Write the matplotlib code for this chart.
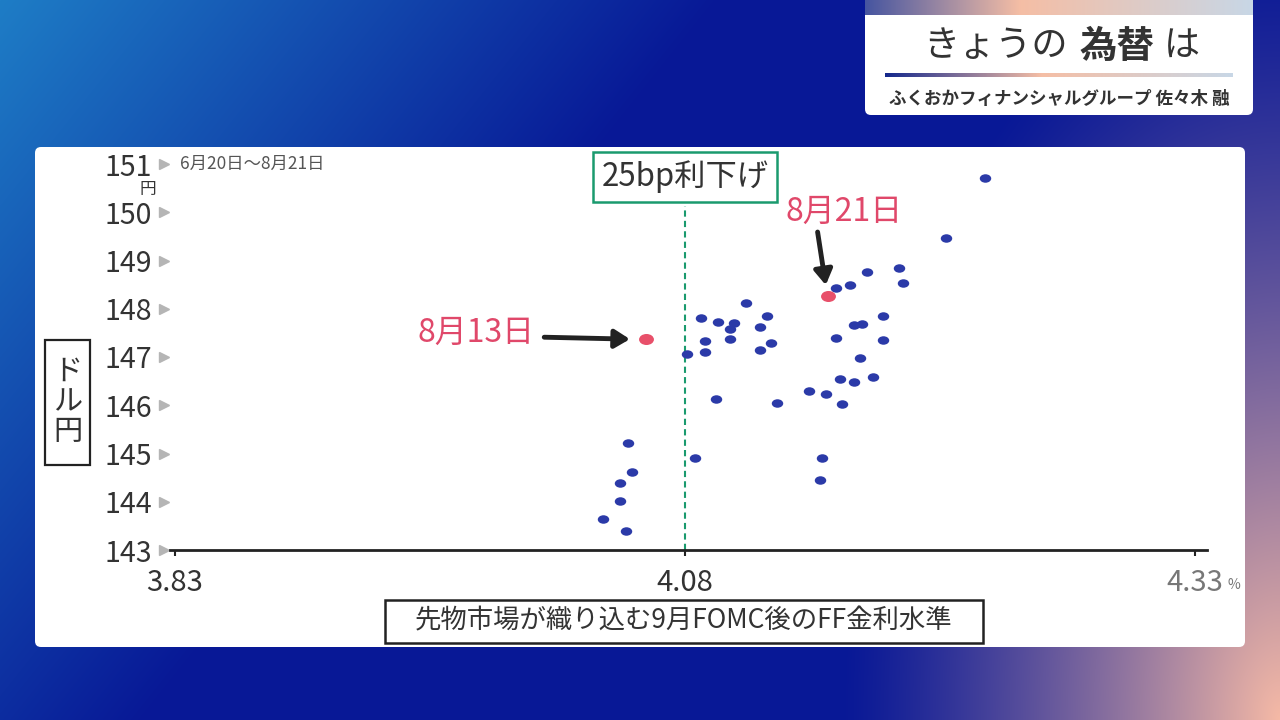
import numpy as np
import matplotlib
matplotlib.use("Agg")
import matplotlib.pyplot as plt
from matplotlib.patches import FancyBboxPatch, Rectangle
from matplotlib.path import Path

plt.rcParams['font.family'] = ['Noto Sans CJK JP', 'DejaVu Sans']

# ---------------- data ----------------
ff_rate = [4.227, 4.208, 4.185, 4.187, 4.169, 4.161, 4.154,
           4.110, 4.088, 4.096, 4.104, 4.102, 4.120, 4.117, 4.177, 4.163, 4.167,
           4.090, 4.102, 4.122, 4.117, 4.154, 4.177, 4.081, 4.090, 4.166,
           4.156, 4.163, 4.172, 4.141, 4.149, 4.157, 4.095, 4.125,
           4.052, 4.054, 4.048, 4.048, 4.040, 4.051, 4.085, 4.147, 4.146]
usdjpy = [150.71, 149.47, 148.84, 148.53, 148.76, 148.49, 148.43,
          148.12, 147.81, 147.73, 147.70, 147.58, 147.84, 147.62, 147.84, 147.66, 147.68,
          147.33, 147.37, 147.29, 147.15, 147.39, 147.35, 147.06, 147.10, 146.98,
          146.54, 146.48, 146.59, 146.30, 146.23, 146.03, 146.13, 146.05,
          145.22, 144.62, 144.39, 144.02, 143.64, 143.39, 144.91, 144.91, 144.45]
highlight_labels = ['8月13日', '8月21日']
highlight_rate = [4.061, 4.150]
highlight_jpy = [147.37, 148.26]

x_ticks = [3.83, 4.08, 4.33]
x_tick_labels = ['3.83', '4.08', '4.33']
y_ticks = [143, 144, 145, 146, 147, 148, 149, 150, 151]
y_tick_labels = [str(v) for v in y_ticks]
cut_rate = 4.08

W, H = 1280, 720
fig = plt.figure(figsize=(12.8, 7.2), dpi=100)

# ---------------- background ----------------
bg = fig.add_axes([0, 0, 1, 1])
bg.set_xlim(0, W)
bg.set_ylim(H, 0)
bg.axis('off')
yy, xx = np.mgrid[0:H, 0:W].astype(float)
navy = np.array([8, 24, 150]) / 255
blue = np.array([30, 125, 198]) / 255
pink = np.array([246, 186, 166]) / 255
w1 = np.clip(1 - (xx + 0.8 * yy) / 720, 0, 1) ** 1.0
d2 = np.sqrt(((W - xx) / 440) ** 2 + ((H - yy) / 780) ** 2)
w2 = np.clip(1 - d2, 0, 1) ** 1.25
img = navy[None, None, :] * (1 - w1[..., None]) + blue[None, None, :] * w1[..., None]
img = img * (1 - w2[..., None]) + pink[None, None, :] * w2[..., None]
bg.imshow(img, extent=(0, W, H, 0), aspect='auto', zorder=0)

# white panel
bg.add_patch(FancyBboxPatch((35, 147), 1210, 500, boxstyle="round,pad=0,rounding_size=6",
                            fc='white', ec='none', zorder=1))

# title box
bg.add_patch(FancyBboxPatch((865, -10), 388, 125, boxstyle="round,pad=0,rounding_size=6",
                            fc='white', ec='none', zorder=1))
top_grad = np.linspace(0, 1, 300)
c0 = np.array([70, 85, 160]) / 255
c1 = np.array([245, 190, 165]) / 255
c2 = np.array([200, 215, 230]) / 255
strip = np.where(top_grad[:, None] < 0.4,
                 c0 + (c1 - c0) * (top_grad[:, None] / 0.4),
                 c1 + (c2 - c1) * ((top_grad[:, None] - 0.4) / 0.6))
bg.imshow(strip[None, :, :], extent=(865, 1253, 15, 0), aspect='auto', zorder=2)
c3 = np.array([20, 40, 140]) / 255
strip2 = np.where(top_grad[:, None] < 0.45,
                  c3 + (c1 - c3) * (top_grad[:, None] / 0.45),
                  c1 + (c2 - c1) * ((top_grad[:, None] - 0.45) / 0.55))
bg.imshow(strip2[None, :, :], extent=(885, 1233, 77, 73), aspect='auto', zorder=2)
bg.text(1068, 46, 'きょうの', fontsize=26, color='#333333', ha='right', va='center', zorder=3)
bg.text(1117, 46, '為替', fontsize=27, color='#333333', fontweight='bold', ha='center', va='center', zorder=3)
bg.text(1164, 46, 'は', fontsize=26, color='#333333', ha='left', va='center', zorder=3)
bg.text(1059, 99, 'ふくおかフィナンシャルグループ 佐々木 融', fontsize=12.6, color='#333333',
        fontweight='bold', ha='center', va='center', zorder=3)

# y label box
bg.add_patch(Rectangle((45, 340), 45, 125, fc='white', ec='#222222', lw=1.6, zorder=3))
bg.text(67.5, 402, 'ド\nル\n円', fontsize=21, color='#333333', ha='center', va='center',
        linespacing=1.0, zorder=4)

# x label box
bg.add_patch(Rectangle((385, 600), 598, 43, fc='white', ec='#222222', lw=1.8, zorder=3))
bg.text(684, 621, '先物市場が織り込む9月FOMC後のFF金利水準', fontsize=19, color='#333333',
        ha='center', va='center', zorder=4)

# ---------------- main axes ----------------
px_per_unit = 2040.0
x0_px = 175.0
xmin = 3.83 - (x0_px - 170) / px_per_unit
xmax = 3.83 + (1207 - x0_px) / px_per_unit
ax = fig.add_axes([170 / W, 1 - 550 / H, (1207 - 170) / W, (550 - 154) / H])
ax.set_facecolor('none')
ax.set_xlim(xmin, xmax)
ax.set_ylim(143, 143 + (550 - 154) / 48.25)
for s in ['top', 'right', 'left']:
    ax.spines[s].set_visible(False)
ax.spines['bottom'].set_color('#222222')
ax.spines['bottom'].set_linewidth(2.0)

ax.set_yticks(y_ticks, y_tick_labels)
ax.tick_params(axis='y', length=0, pad=13, labelsize=20.5, labelcolor='#333333')
ax.set_xticks(x_ticks, x_tick_labels)
ax.tick_params(axis='x', length=4, width=1.5, color='#222222', pad=9, labelsize=21,
               labelcolor='#333333')
ax.get_xticklabels()[2].set_color('#777777')
tri_x = 3.83 + (164 - x0_px) / px_per_unit
ax.plot([tri_x] * len(y_ticks), y_ticks, linestyle='none', marker='>', markersize=7,
        color='#b5b5b5', clip_on=False, zorder=2)

ax.text(1.0 + (1234 - 1207) / (1207 - 170), -0.088, '%', transform=ax.transAxes,
        fontsize=10, color='#777777', ha='center', va='center')
ax.text(3.83 + (148 - x0_px) / px_per_unit, 150.47, '円', fontsize=12, color='#333333',
        ha='center', va='center', clip_on=False)
ax.text(3.83 + (180 - x0_px) / px_per_unit, 151.0, '6月20日〜8月21日', fontsize=12.5,
        color='#555555', ha='left', va='center')

# cut line and box
ax.plot([cut_rate, cut_rate], [143, 150.13], linestyle=(0, (3, 2)), color='#1a9a6e', lw=1.5, zorder=1)
ax.text(cut_rate, 150.73, '25bp利下げ', fontsize=22.5, color='#333333', ha='center', va='center',
        bbox=dict(boxstyle='square,pad=0.28', fc='white', ec='#1a9a6e', lw=1.8), zorder=5)

# points
circ = Path.unit_circle()
ell = Path(circ.vertices * np.array([1.35, 1.0]), circ.codes)
ax.scatter(ff_rate, usdjpy, s=68, marker=ell, color='#2b3aa8', linewidths=0, zorder=3)
ax.scatter(highlight_rate, highlight_jpy, s=115, marker=ell, color='#e8506a', linewidths=0, zorder=4)

red = '#e0486a'
arrow_kw = dict(arrowstyle='-|>,head_length=0.9,head_width=0.55', color='#222222', lw=3.5,
                shrinkA=0, shrinkB=0)
# 8/13
ax.annotate('', xy=(highlight_rate[0] - 0.008, highlight_jpy[0]),
            xytext=(highlight_rate[0] - 0.050, highlight_jpy[0] + 0.04), arrowprops=arrow_kw, zorder=5)
ax.text(highlight_rate[0] - 0.0545, highlight_jpy[0] + 0.13, highlight_labels[0], fontsize=23,
        color=red, ha='right', va='center')
# 8/21
ax.annotate('', xy=(highlight_rate[1] - 0.001, highlight_jpy[1] + 0.23),
            xytext=(highlight_rate[1] - 0.005, highlight_jpy[1] + 1.33), arrowprops=arrow_kw, zorder=5)
ax.text(highlight_rate[1] + 0.008, highlight_jpy[1] + 1.74, highlight_labels[1], fontsize=23,
        color=red, ha='center', va='center')

fig.savefig('out.png', dpi=100)
